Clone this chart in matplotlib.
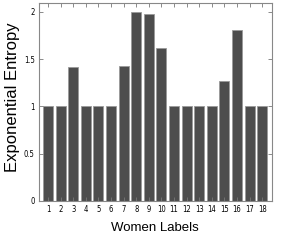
import matplotlib
matplotlib.use("Agg")
import matplotlib.pyplot as plt

labels = [str(i) for i in range(1, 19)]
values = [1.0, 1.0, 1.42, 1.0, 1.0, 1.0, 1.425, 2.0, 1.98, 1.62,
          1.0, 1.0, 1.0, 1.0, 1.265, 1.805, 1.0, 1.0]
yticks = [0, 0.5, 1, 1.5, 2]
yticklabels = ["0", "0.5", "1", "1.5", "2"]

fig = plt.figure(figsize=(3.0, 2.45), dpi=100)
ax = fig.add_axes([39/300, 1 - 201/245, (271.5-39)/300, (201-2.5)/245])
x = list(range(1, 19))
ax.bar(x, values, width=0.8, color='#4d4d4d', edgecolor='#9a9a9a', linewidth=0.6)
ax.set_xlim(0.28, 18.74)
ax.set_ylim(0, 2.1)
ax.set_xticks(x)
ax.set_xticklabels(labels, fontsize=5.5, fontstretch='condensed')
ax.set_yticks(yticks)
ax.set_yticklabels(yticklabels, fontsize=5.5, fontstretch='condensed')
ax.tick_params(direction='in', length=3, width=0.6, color='#777777', top=True, right=True, pad=3)
for s in ax.spines.values():
    s.set_color('#888888')
    s.set_linewidth(0.8)
ax.set_xlabel("Women Labels", family=['Liberation Sans', 'DejaVu Sans'], fontsize=9.5)
ax.xaxis.set_label_coords((154.5-39)/(271.5-39), -(222-201)/(201-2.5))
ax.xaxis.label.set_va('top')
ax.set_ylabel("Exponential Entropy", family=['Liberation Sans', 'DejaVu Sans'], fontsize=12)
ax.yaxis.label.set_va('center')
ax.yaxis.set_label_coords(-(39-12.5)/(271.5-39), (201-97)/(201-2.5))
fig.savefig("out.png", dpi=100)
